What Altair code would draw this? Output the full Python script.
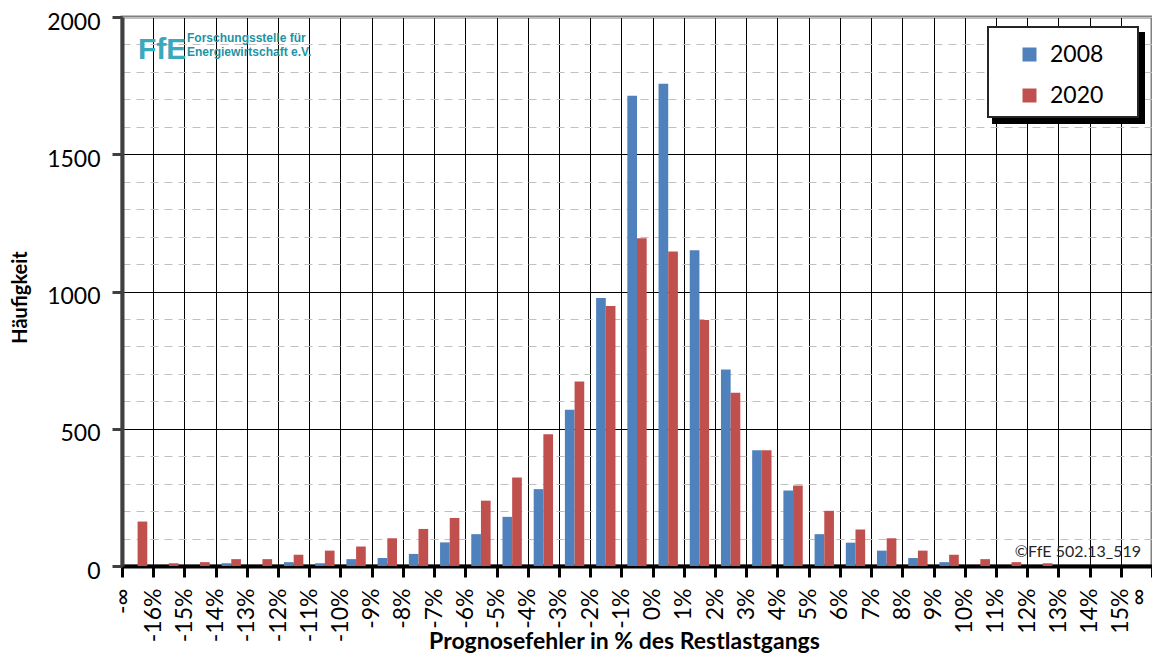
import json
import pandas as pd
import altair as alt

# ---------------- data ----------------
tick_labels = ["-∞", "-16%", "-15%", "-14%", "-13%", "-12%", "-11%", "-10%", "-9%", "-8%",
               "-7%", "-6%", "-5%", "-4%", "-3%", "-2%", "-1%", "0%", "1%", "2%", "3%",
               "4%", "5%", "6%", "7%", "8%", "9%", "10%", "11%", "12%", "13%", "14%",
               "15%", "∞"]
series_names = ["2008", "2020"]
series_colors = ["#4F81BD", "#C0504D"]
# one value per interval between two consecutive tick labels (33 intervals)
counts_2008 = [0, 0, 0, 10, 0, 14, 10, 25, 29, 44, 86, 116, 179, 280, 569, 976,
               1713, 1757, 1150, 716, 422, 275, 116, 85, 56, 29, 14, 0, 0, 0, 0, 0, 0]
counts_2020 = [162, 10, 14, 25, 25, 41, 56, 71, 101, 135, 175, 238, 322, 480, 672, 947,
               1194, 1146, 896, 631, 422, 293, 201, 133, 101, 56, 41, 25, 14, 10, 0, 0, 0]
y_ticks = list(range(0, 2001, 100))
x_title = "Prognosefehler in % des Restlastgangs"
y_title = "Häufigkeit"
copyright_text = "©FfE 502.13_519"
logo_big = "FfE"
logo_line1 = "Forschungsstelle für"
logo_line2 = "Energiewirtschaft e.V."

rows = []
for i, (a, b) in enumerate(zip(counts_2008, counts_2020)):
    rows.append({"bin": i, "series": series_names[0], "count": a})
    rows.append({"bin": i, "series": series_names[1], "count": b})
df = pd.DataFrame(rows)
one = pd.DataFrame({"k": [0]})

W, H = 1030, 549
FONT = "Lato"
last_tick = len(tick_labels) - 1
label_expr = json.dumps(tick_labels, ensure_ascii=False) + "[datum.value]"

x_axis = alt.Axis(
    values=list(range(len(tick_labels))), labelExpr=label_expr, labelAngle=270,
    labelFontSize=23, labelColor="black", labelPadding=11, labelOverlap=False,
    labelFlush=False, labelBound=False,
    labelOffset={"condition": {"test": f"datum.value === {last_tick}", "value": -14},
                 "value": 0},
    tickSize=11, tickWidth=3, tickColor="black",
    domainColor="black", domainWidth=4,
    grid=True, gridColor="black", gridWidth=1,
    title=x_title, titleFontSize=23, titleFontWeight="bold", titleColor="black",
    titleX=502, titleY=82, titleBaseline="alphabetic", titleAlign="center",
)
y_axis = alt.Axis(
    values=y_ticks, format="d",
    labelExpr="datum.value % 500 === 0 ? datum.label : ''",
    labelFontSize=23, labelColor="black", labelPadding=12, labelOffset=5,
    tickSize=10, tickWidth=3,
    tickColor={"condition": {"test": "datum.value % 500 === 0", "value": "#404040"},
               "value": "transparent"},
    domainColor="#404040", domainWidth=4,
    grid=True, gridWidth=1,
    gridColor={"condition": {"test": "datum.value % 500 === 0 && datum.value < 2000",
                             "value": "black"}, "value": "#c0c0c0"},
    gridDash={"condition": {"test": "datum.value % 500 === 0", "value": []},
              "value": [8, 6]},
    title=y_title, titleFontSize=20, titleFontWeight="bold", titleColor="black",
    titleAngle=270, titleX=-102, titleY=280, titleBaseline="middle",
    titleAlign="center",
)

bars = alt.Chart(df).transform_calculate(
    lo="datum.bin + (datum.series == '2008' ? 0.19 : 0.5)",
    hi="datum.bin + (datum.series == '2008' ? 0.5 : 0.81)",
).mark_rect().encode(
    x=alt.X("lo:Q", scale=alt.Scale(domain=[0, last_tick], nice=False, zero=False),
            axis=x_axis),
    x2="hi:Q",
    y=alt.Y("count:Q", scale=alt.Scale(domain=[0, 2000], nice=False), axis=y_axis),
    y2=alt.datum(0),
    color=alt.Color("series:N",
                    scale=alt.Scale(domain=series_names, range=series_colors),
                    legend=alt.Legend(orient="none", legendX=896, legendY=26, title=None,
                                      labelFontSize=23, labelColor="black", labelFont=FONT,
                                      symbolType="square", symbolSize=196,
                                      symbolStrokeWidth=0, rowPadding=17, labelOffset=9,
                                      padding=0, symbolOffset=0)),
)

shadow = alt.Chart(one).mark_rect(color="black").encode(
    x=alt.value(870), x2=alt.value(1023), y=alt.value(15), y2=alt.value(107))
box = alt.Chart(one).mark_rect(fill="white", stroke="#262626", strokeWidth=2).encode(
    x=alt.value(866), x2=alt.value(1016), y=alt.value(10), y2=alt.value(100))

logo1 = alt.Chart(one).mark_text(align="left", baseline="alphabetic", fontSize=30,
                                 fontWeight="bold", color="#3aa9bd",
                                 font="Liberation Sans").encode(
    x=alt.value(16), y=alt.value(42), text=alt.value(logo_big))
logo2 = alt.Chart(one).mark_text(align="left", baseline="alphabetic", fontSize=12,
                                 fontWeight="bold", color="#1d93a8",
                                 font="Liberation Sans").encode(
    x=alt.value(65), y=alt.value(25), text=alt.value(logo_line1))
logo3 = alt.Chart(one).mark_text(align="left", baseline="alphabetic", fontSize=12,
                                 fontWeight="bold", color="#1d93a8",
                                 font="Liberation Sans").encode(
    x=alt.value(65), y=alt.value(39), text=alt.value(logo_line2))
copy_txt = alt.Chart(one).mark_text(align="right", baseline="alphabetic", fontSize=16,
                                    color="#262626", font=FONT).encode(
    x=alt.value(1019), y=alt.value(540), text=alt.value(copyright_text))

chart = alt.layer(bars, shadow, box, logo1, logo2, logo3, copy_txt).properties(
    width=W, height=H,
    autosize=alt.AutoSizeParams(type="none"),
    padding={"left": 114, "top": 9, "right": 0, "bottom": 87},
    background="white",
).configure(font=FONT).configure_view(stroke="#808080", strokeWidth=3)

chart.save("out.html", embed_options={"renderer": "svg", "actions": False})
